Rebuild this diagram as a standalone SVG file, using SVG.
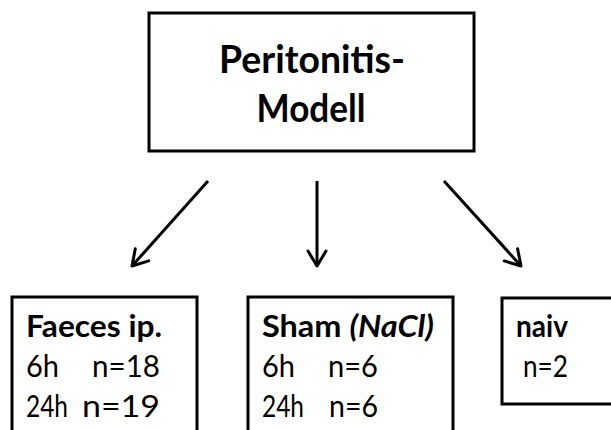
<svg xmlns="http://www.w3.org/2000/svg" width="611" height="430" viewBox="0 0 611 430">
<style>
.box{fill:#fff;stroke:#000;stroke-width:3}
.t{font-family:Lato,"Liberation Sans",sans-serif;fill:#000}
.big{font-size:39px;font-weight:bold}
.b{font-size:30px;font-weight:bold}
.n{font-size:31px}
.conn line{stroke:#000;stroke-width:3}
</style>
<defs>
<marker id="ah" markerUnits="userSpaceOnUse" markerWidth="30" markerHeight="30" refX="0" refY="0" viewBox="-20 -15 25 30" orient="auto" overflow="visible">
<path d="M -15 -9 L 0 0 L -15 9" fill="none" stroke="#000" stroke-width="3" stroke-linecap="round" stroke-linejoin="round"/>
</marker>
</defs>
<rect width="611" height="430" fill="#fff"/>
<g id="root">
<rect class="box" x="149" y="13" width="325" height="138"/>
<text class="t big" x="312" y="73" text-anchor="middle" textLength="186" lengthAdjust="spacingAndGlyphs">Peritonitis-</text>
<text class="t big" x="311" y="122" text-anchor="middle" textLength="109" lengthAdjust="spacingAndGlyphs">Modell</text>
</g>
<g id="connectors" class="conn">
<line x1="208" y1="181" x2="132" y2="266" marker-end="url(#ah)"/>
<line x1="317" y1="181" x2="317" y2="266" marker-end="url(#ah)"/>
<line x1="444" y1="181" x2="521" y2="266" marker-end="url(#ah)"/>
</g>
<g id="faeces">
<rect class="box" x="12" y="297" width="185" height="140"/>
<text class="t b" x="26" y="337" textLength="136" lengthAdjust="spacingAndGlyphs">Faeces ip.</text>
<text class="t n" x="26" y="377" textLength="33" lengthAdjust="spacingAndGlyphs">6h</text>
<text class="t n" x="92" y="377" textLength="68" lengthAdjust="spacingAndGlyphs">n=18</text>
<text class="t n" x="26" y="417" textLength="42" lengthAdjust="spacingAndGlyphs">24h</text>
<text class="t n" x="82" y="417" textLength="78" lengthAdjust="spacingAndGlyphs">n=19</text>
</g>
<g id="sham">
<rect class="box" x="248" y="297" width="205" height="140"/>
<text class="t b" x="262" y="337" textLength="172" lengthAdjust="spacingAndGlyphs"><tspan>Sham </tspan><tspan font-style="italic">(NaCl)</tspan></text>
<text class="t n" x="262" y="377" textLength="33" lengthAdjust="spacingAndGlyphs">6h</text>
<text class="t n" x="328" y="377" textLength="50" lengthAdjust="spacingAndGlyphs">n=6</text>
<text class="t n" x="262" y="417" textLength="42" lengthAdjust="spacingAndGlyphs">24h</text>
<text class="t n" x="329" y="417" textLength="49" lengthAdjust="spacingAndGlyphs">n=6</text>
</g>
<g id="naiv">
<rect class="box" x="502" y="298" width="120" height="106"/>
<text class="t b" x="516" y="337" textLength="52" lengthAdjust="spacingAndGlyphs">naiv</text>
<text class="t n" x="523" y="377" textLength="45" lengthAdjust="spacingAndGlyphs">n=2</text>
</g>
</svg>
